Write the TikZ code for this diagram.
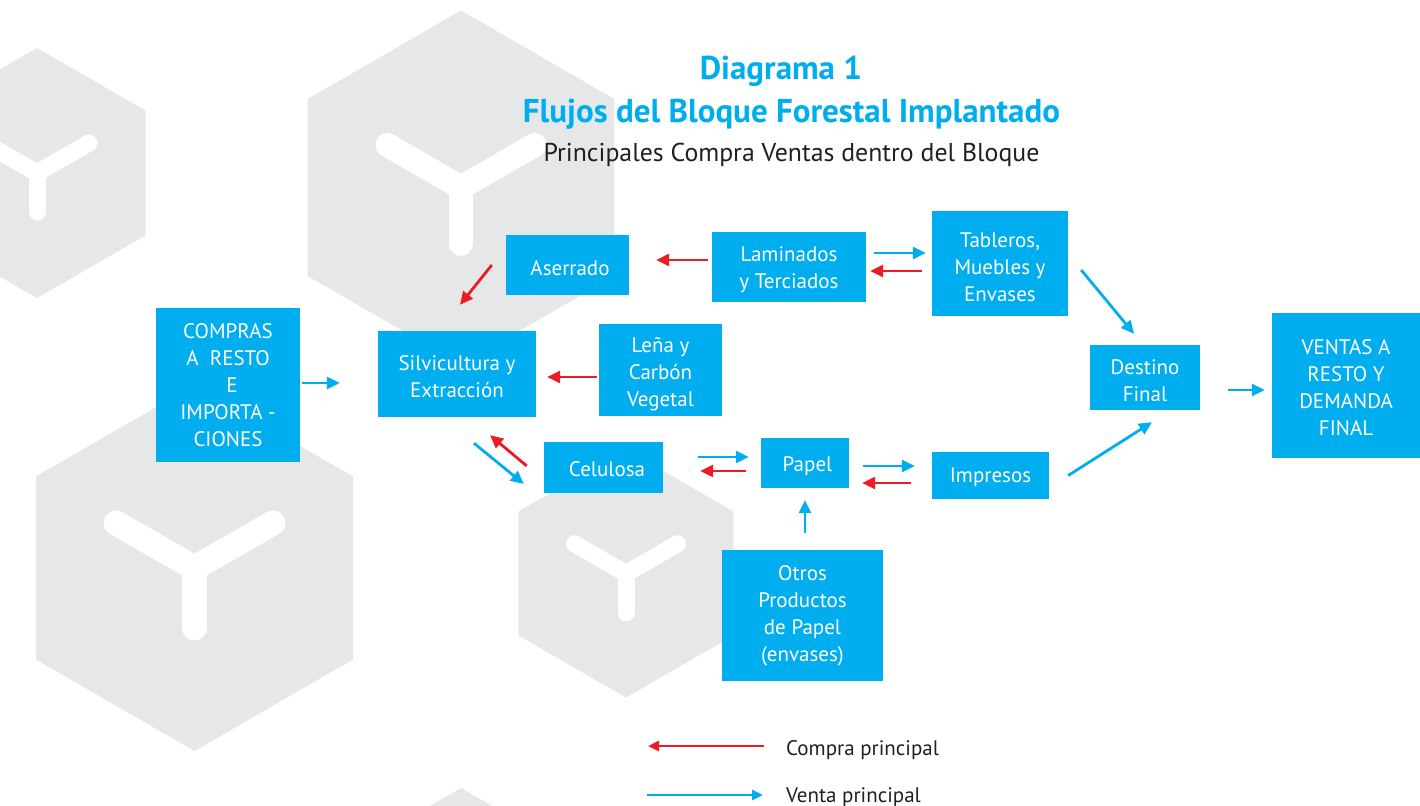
\documentclass[tikz,border=0pt]{standalone}
\usepackage{fontspec}
\setmainfont{PT Sans}
\usetikzlibrary{arrows.meta,calc}
\definecolor{boxblue}{HTML}{00AEEF}
\definecolor{arrred}{HTML}{ED1C24}
\definecolor{hexgray}{HTML}{E6E7E8}
\definecolor{txtdark}{HTML}{231F20}
\newlength\tdownlen
\newcommand\tdn[1]{\pgfmathsetlength\tdownlen{15.4+2*#1}\rule{0pt}{\tdownlen}}
\tikzset{
  box/.style={fill=boxblue, text=white, inner sep=0pt, align=center,
    font=\fontsize{21}{27}\selectfont},
  compra/.style={draw=arrred, line width=2.8pt, -{Triangle[length=13pt,width=12pt]}},
  venta/.style={draw=boxblue, line width=2.8pt, -{Triangle[length=13pt,width=12pt]}},
  hexfill/.style={fill=hexgray},
  yarm/.style={draw=white, line cap=round, line join=round},
}
\begin{document}
\begin{tikzpicture}[x=1pt,y=-1pt]
\useasboundingbox (0,0) rectangle (1420,805);
\clip (0,0) rectangle (1420,805);
\fill[white] (0,0) rectangle (1420,805);
% ---- background hexagons ----
% hex 1
\fill[hexfill] (37,48) -- (145.25,110.5) -- (145.25,235.5) -- (37,298) -- (-71.25,235.5) -- (-71.25,110.5) -- cycle;
\draw[yarm, line width=17pt] (-15,143) -- (37,173) -- (89,143);
\draw[yarm, line width=17pt] (37,173) -- (37,212);
% hex 2
\fill[hexfill] (461,10.5) -- (614.3,99) -- (614.3,276) -- (461,364.5) -- (307.7,276) -- (307.7,99) -- cycle;
\draw[yarm, line width=24pt] (387.4,145) -- (461,187.5) -- (534.6,145);
\draw[yarm, line width=24pt] (461,187.5) -- (461,244);
% hex 3
\fill[hexfill] (194.5,385) -- (353,476.5) -- (353,659.5) -- (194.5,751) -- (36,659.5) -- (36,476.5) -- cycle;
\draw[yarm, line width=25pt] (116,523) -- (194.5,568) -- (273,523);
\draw[yarm, line width=25pt] (194.5,568) -- (194.5,628);
% hex 4
\fill[hexfill] (626,449.5) -- (733.4,511.5) -- (733.4,635.5) -- (626,697.5) -- (518.6,635.5) -- (518.6,511.5) -- cycle;
\draw[yarm, line width=17pt] (574.4,543.7) -- (626,573.5) -- (677.6,543.7);
\draw[yarm, line width=17pt] (626,573.5) -- (626,613);
% hex 5
\fill[hexfill] (461,788) -- (614.3,876.5) -- (614.3,1053.5) -- (461,1142) -- (307.7,1053.5) -- (307.7,876.5) -- cycle;

% ---- titles ----
\node[text=boxblue, font=\fontsize{33}{38}\bfseries\selectfont] (t1) at (781,71) {Diagrama 1};
\node[text=boxblue, font=\fontsize{33}{38}\bfseries\selectfont] (t2) at (791.5,114) {Flujos del Bloque Forestal Implantado};
\node[text=txtdark, font=\fontsize{25.8}{30}\selectfont] (t3) at (791.5,155) {Principales Compra Ventas dentro del Bloque};

% ---- boxes ----
\node[box, minimum width=144pt, minimum height=154pt] (compras) at (228,385) {COMPRAS\\A\ \ RESTO\\\hspace{8pt}E\\IMPORTA -\\CIONES};
\node[box, minimum width=158pt, minimum height=86pt] (silv) at (457,374) {\tdn{2.5}Silvicultura y\\Extracción};
\node[box, minimum width=123pt, minimum height=60pt] (aser) at (567.5,265) {\tdn{3}\hspace{5pt}Aserrado};
\node[box, minimum width=154pt, minimum height=70pt] (lam) at (789,267) {\tdn{2.5}Laminados\\y Terciados};
\node[box, minimum width=136pt, minimum height=105pt] (tab) at (1000,263.5) {\tdn{3}Tableros,\\Muebles y\\Envases};
\node[box, minimum width=123pt, minimum height=92pt] (lena) at (660.5,370) {\tdn{4}Leña y\\Carbón\\Vegetal};
\node[box, minimum width=119pt, minimum height=51pt] (cel) at (603.5,467.5) {\tdn{1}\hspace{7pt}Celulosa};
\node[box, minimum width=88pt, minimum height=50pt] (papel) at (805,463) {\tdn{3}\hspace{5pt}Papel};
\node[box, minimum width=117pt, minimum height=47pt] (imp) at (990.5,475.5) {\tdn{1}Impresos};
\node[box, minimum width=110pt, minimum height=65pt] (dest) at (1145,377.5) {\tdn{3}Destino\\Final};
\node[box, minimum width=148pt, minimum height=145pt] (ventas) at (1346,385.5) {\tdn{2}VENTAS A\\RESTO Y\\DEMANDA\\FINAL};
\node[box, minimum width=161pt, minimum height=131pt] (otros) at (802.5,615.5) {Otros\\Productos\\de Papel\\(envases)};

% ---- arrows ----
\draw[venta, shorten <=2pt, shorten >=38pt] ([yshift=2pt]compras.east) -- ([yshift=2pt]compras.east -| silv.west);
\draw[compra] ([xshift=-14pt]aser.west) -- ([xshift=3pt,yshift=26pt]silv.north);
\draw[compra, shorten <=4pt, shorten >=27pt] ([yshift=7pt]lam.west) -- ([yshift=7pt]lam.west -| aser.east);
\draw[venta, shorten <=8pt, shorten >=6pt] ([yshift=14pt]lam.east) -- ([yshift=14pt]lam.east -| tab.west);
\draw[compra, shorten <=10pt, shorten >=4pt] ([yshift=-4pt]lam.east -| tab.west) -- ([yshift=-4pt]lam.east);
\draw[venta] ([xshift=13pt,yshift=-6.5pt]tab.east) -- ([xshift=-11pt,yshift=11pt]dest.north);
\draw[compra, shorten <=2pt, shorten >=11pt] ([yshift=-7pt]lena.west) -- ([yshift=-7pt]lena.west -| silv.east);
\draw[venta] ([xshift=17pt,yshift=-26pt]silv.south) -- ([xshift=-20pt,yshift=-16.5pt]cel.west);
\draw[compra] ([xshift=-17pt,yshift=1.5pt]cel.west) -- ([xshift=33pt,yshift=-18pt]silv.south);
\draw[venta, shorten <=35pt, shorten >=12pt] ([yshift=10.5pt]cel.east) -- ([yshift=10.5pt]cel.east -| papel.west);
\draw[compra, shorten <=15pt, shorten >=37pt] ([yshift=-3.5pt]cel.east -| papel.west) -- ([yshift=-3.5pt]cel.east);
\draw[venta, shorten <=14pt, shorten >=17pt] ([yshift=-3pt]papel.east) -- ([yshift=-3pt]papel.east -| imp.west);
\draw[compra, shorten <=21pt, shorten >=13pt] ([yshift=-20pt]papel.east -| imp.west) -- ([yshift=-20pt]papel.east);
\draw[venta, shorten <=17pt, shorten >=12pt] (papel.south |- otros.north) -- (papel.south);
\draw[venta] ([xshift=19pt]imp.east) -- ([xshift=7pt,yshift=-12pt]dest.south);
\draw[venta, shorten <=28pt, shorten >=7pt] ([yshift=-12.5pt]dest.east) -- ([yshift=-12.5pt]dest.east -| ventas.west);

% ---- legend ----
\node[anchor=base west, text=txtdark, inner sep=0pt, font=\fontsize{21}{25}\selectfont] (lc) at (786,755) {Compra principal};
\node[anchor=base west, text=txtdark, inner sep=0pt, font=\fontsize{21}{25}\selectfont] (lv) at (786,802) {Venta principal};
\draw[compra, line width=2.6pt, -{Triangle[length=11pt,width=10pt]}] ([xshift=-22pt,yshift=9pt]lc.base west) -- ([xshift=-138pt,yshift=9pt]lc.base west);
\draw[venta, line width=2.6pt, -{Triangle[length=11pt,width=10pt]}] ([xshift=-139pt,yshift=7pt]lv.base west) -- ([xshift=-23pt,yshift=7pt]lv.base west);
\end{tikzpicture}
\end{document}
